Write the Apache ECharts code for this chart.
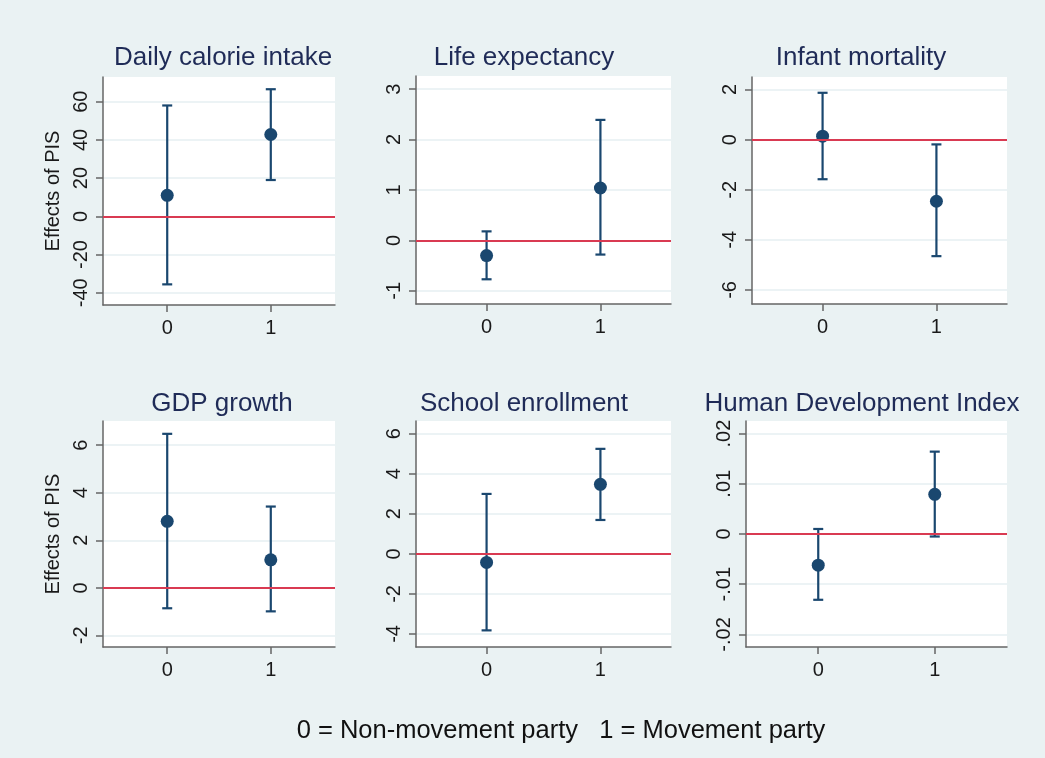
<!DOCTYPE html>
<html>
<head>
<meta charset="utf-8">
<script src="https://cdn.jsdelivr.net/npm/echarts@6/dist/echarts.min.js"></script>
<style>
html,body{margin:0;padding:0;background:#eaf2f3;}
#c{width:1045px;height:758px;}
</style>
</head>
<body>
<div id="c"></div>
<script>
// ---- data ----
const groups = [0, 1];
const xTickLabels = [0, 1];
const titles = ['Daily calorie intake', 'Life expectancy', 'Infant mortality', 'GDP growth', 'School enrollment', 'Human Development Index'];

const calorieEst = [11.0, 42.8];
const calorieLo = [-35.6, 19.0];
const calorieHi = [58.0, 66.5];

const lifeEst = [-0.30, 1.04];
const lifeLo = [-0.77, -0.28];
const lifeHi = [0.18, 2.39];

const infantEst = [0.14, -2.46];
const infantLo = [-1.58, -4.65];
const infantHi = [1.87, -0.19];

const gdpEst = [2.80, 1.18];
const gdpLo = [-0.86, -0.99];
const gdpHi = [6.48, 3.42];

const schoolEst = [-0.43, 3.47];
const schoolLo = [-3.82, 1.69];
const schoolHi = [2.99, 5.24];

const hdiEst = [-0.0062, 0.0079];
const hdiLo = [-0.0131, -0.0005];
const hdiHi = [0.0010, 0.0164];

const calorieTicks = [-40, -20, 0, 20, 40, 60];
const lifeTicks = [-1, 0, 1, 2, 3];
const infantTicks = [-6, -4, -2, 0, 2];
const gdpTicks = [-2, 0, 2, 4, 6];
const schoolTicks = [-4, -2, 0, 2, 4, 6];
const hdiTicks = [-0.02, -0.01, 0, 0.01, 0.02];

const yTitle = 'Effects of PIS';
const footnote = '0 = Non-movement party   1 = Movement party';

// ---- layout / styles ----
const panels = [
  {est: calorieEst, lo: calorieLo, hi: calorieHi, ticks: calorieTicks, min: -46.4, max: 72.9,
   grid: {left: 103, top: 77, width: 232, height: 228}, yName: true, tx: 223, ty: 58},
  {est: lifeEst, lo: lifeLo, hi: lifeHi, ticks: lifeTicks, min: -1.26, max: 3.26,
   grid: {left: 416, top: 76, width: 255, height: 228}, tx: 524, ty: 58},
  {est: infantEst, lo: infantLo, hi: infantHi, ticks: infantTicks, min: -6.56, max: 2.5,
   grid: {left: 752, top: 77, width: 255, height: 227}, tx: 861, ty: 58},
  {est: gdpEst, lo: gdpLo, hi: gdpHi, ticks: gdpTicks, min: -2.49, max: 7.02,
   grid: {left: 103, top: 421, width: 232, height: 226}, yName: true, tx: 222, ty: 404},
  {est: schoolEst, lo: schoolLo, hi: schoolHi, ticks: schoolTicks, min: -4.65, max: 6.63,
   grid: {left: 416, top: 421, width: 255, height: 226}, tx: 524, ty: 404},
  {est: hdiEst, lo: hdiLo, hi: hdiHi, ticks: hdiTicks, min: -0.0225, max: 0.0225,
   grid: {left: 746, top: 421, width: 261, height: 226}, tx: 862, ty: 404, dotFmt: true}
];

const NAVY = '#1a476f';
const RED = '#d93a52';
const AXIS = '#666666';
const FONT = '"Liberation Sans", Arial, Helvetica, sans-serif';

function fmtTick(v, dot) {
  let s = String(Math.round(v * 10000) / 10000);
  if (dot) s = s.replace('0.', '.');
  return s;
}

const grids = [], xAxes = [], yAxes = [], series = [], graphics = [];
panels.forEach((p, i) => {
  grids.push(Object.assign({show: true, backgroundColor: '#ffffff', borderWidth: 0, outerBoundsMode: 'none'}, p.grid));
  xAxes.push({
    type: 'value', gridIndex: i, min: -0.62, max: 1.62,
    axisLine: {show: true, onZero: false, lineStyle: {color: AXIS, width: 1.5}},
    axisTick: {show: true, length: 7, customValues: xTickLabels, lineStyle: {color: AXIS, width: 1.5}},
    axisLabel: {customValues: xTickLabels, margin: 13, fontSize: 20, color: '#1a1a1a', fontFamily: FONT},
    splitLine: {show: false}
  });
  yAxes.push({
    type: 'value', gridIndex: i, min: p.min, max: p.max,
    name: p.yName ? yTitle : '', nameLocation: 'middle', nameGap: 40,
    nameTextStyle: {fontSize: 20, color: '#1a1a1a', fontFamily: FONT},
    axisLine: {show: true, onZero: false, lineStyle: {color: AXIS, width: 1.5}},
    axisTick: {show: true, length: 7, customValues: p.ticks, lineStyle: {color: AXIS, width: 1.5}},
    axisLabel: {customValues: p.ticks, rotate: 90, margin: 12, fontSize: 20, color: '#1a1a1a', fontFamily: FONT,
      formatter: (v) => fmtTick(v, p.dotFmt)},
    splitLine: {show: true, lineStyle: {color: '#e6eff2', width: 1.5}}
  });
  // zero reference line
  series.push({
    type: 'line', xAxisIndex: i, yAxisIndex: i, data: [], z: 1,
    markLine: {silent: true, symbol: ['none', 'none'], label: {show: false},
      lineStyle: {color: RED, width: 2, type: 'solid'}, data: [{yAxis: 0}]}
  });
  // confidence intervals
  series.push({
    type: 'custom', xAxisIndex: i, yAxisIndex: i, z: 3,
    data: groups.map((g, k) => [g, p.lo[k], p.hi[k]]),
    renderItem: function (params, api) {
      const x = api.value(0);
      const a = api.coord([x, api.value(1)]);
      const b = api.coord([x, api.value(2)]);
      const hw = 5;
      const st = {stroke: NAVY, lineWidth: 2.2};
      return {type: 'group', children: [
        {type: 'line', shape: {x1: a[0], y1: a[1], x2: b[0], y2: b[1]}, style: st},
        {type: 'line', shape: {x1: a[0] - hw, y1: a[1], x2: a[0] + hw, y2: a[1]}, style: st},
        {type: 'line', shape: {x1: b[0] - hw, y1: b[1], x2: b[0] + hw, y2: b[1]}, style: st}
      ]};
    }
  });
  // point estimates
  series.push({
    type: 'scatter', xAxisIndex: i, yAxisIndex: i, z: 4,
    symbol: 'circle', symbolSize: 13, itemStyle: {color: NAVY, opacity: 1},
    data: groups.map((g, k) => [g, p.est[k]])
  });
  graphics.push({type: 'text', x: p.tx, y: p.ty,
    style: {text: titles[i], font: '26px ' + FONT, fill: '#1f2b57', textAlign: 'center', textVerticalAlign: 'middle'}});
});
graphics.push({type: 'text', x: 561, y: 731,
  style: {text: footnote, font: '25.5px ' + FONT, fill: '#111', textAlign: 'center', textVerticalAlign: 'middle'}});

const chart = echarts.init(document.getElementById('c'), null, {renderer: 'canvas'});
chart.setOption({
  backgroundColor: '#eaf2f3',
  animation: false,
  grid: grids,
  xAxis: xAxes,
  yAxis: yAxes,
  series: series,
  graphic: graphics
});
</script>
</body>
</html>
